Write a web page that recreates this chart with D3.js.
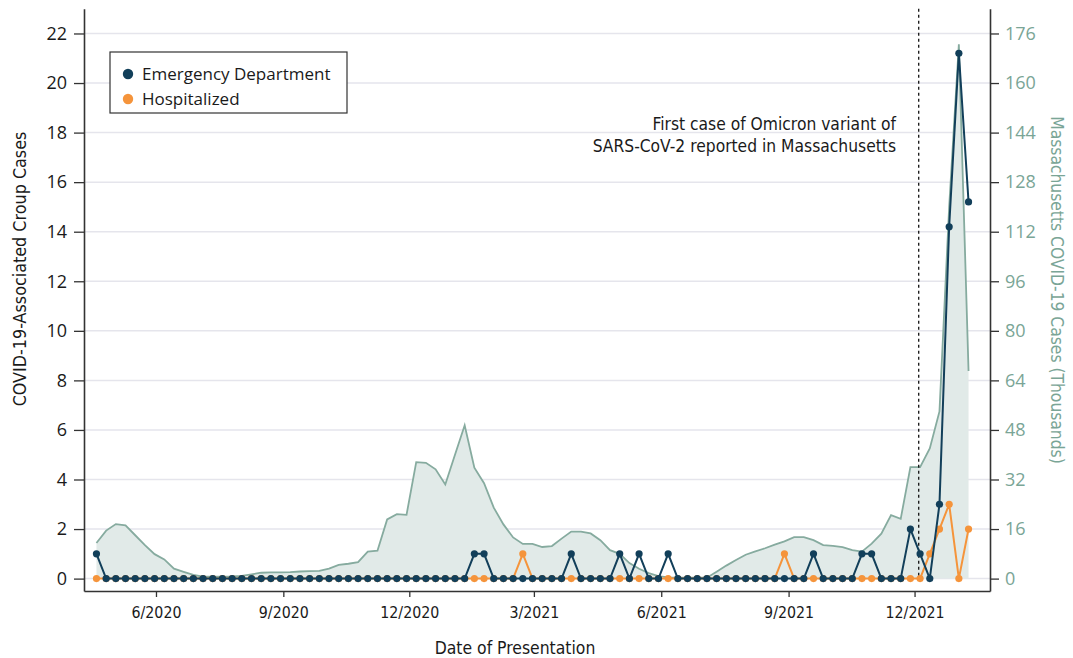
<!DOCTYPE html>
<html><head><meta charset="utf-8">
<script src="https://cdn.jsdelivr.net/npm/d3@7"></script>
<style>body{margin:0;background:#fff}</style>
</head><body>
<svg id="chart" width="1073" height="658"></svg>
<script>
// ---- data ----
const firstWeek = "2020-04-19";
const lastWeek = "2022-01-09";
const edCases = [
  1,0,0,0,0,0,0,0,0,0,
  0,0,0,0,0,0,0,0,0,0,
  0,0,0,0,0,0,0,0,0,0,
  0,0,0,0,0,0,0,0,0,1,
  1,0,0,0,0,0,0,0,0,1,
  0,0,0,0,1,0,1,0,0,1,
  0,0,0,0,0,0,0,0,0,0,
  0,0,0,0,1,0,0,0,0,1,
  1,0,0,0,2,1,0,3,14.2,21.2,
  15.2];
const hospCases = [
  0,0,0,0,0,0,0,0,0,0,
  0,0,0,0,0,0,0,0,0,0,
  0,0,0,0,0,0,0,0,0,0,
  0,0,0,0,0,0,0,0,0,0,
  0,0,0,0,1,0,0,0,0,0,
  0,0,0,0,0,0,0,0,0,0,
  0,0,0,0,0,0,0,0,0,0,
  0,1,0,0,0,0,0,0,0,0,
  0,0,0,0,0,0,1,2,3,0,
  2];
const maCasesK = [
  11.5,15.5,17.6,17.2,14.0,10.8,7.9,6.2,3.2,2.2,
  1.2,0.6,0.6,0.6,0.7,0.9,1.4,1.9,2.0,2.0,
  2.1,2.3,2.4,2.5,3.2,4.4,4.8,5.3,8.7,9.0,
  19.1,20.8,20.6,37.6,37.4,35.3,30.4,40.0,49.5,35.8,
  30.8,22.9,17.5,13.3,11.2,11.2,10.2,10.5,12.9,15.2,
  15.2,14.6,12.4,9.2,8.0,5.0,3.2,1.8,0.8,0.4,
  0.3,0.3,0.3,0.3,2.2,4.2,6.0,7.7,8.8,9.8,
  11.0,12.0,13.4,13.4,12.4,10.8,10.6,10.2,9.2,8.7,
  11.3,14.5,20.5,19.3,36.0,36.0,42.0,54.0,120.0,172.5,
  67.0];
const leftTicks = [0,2,4,6,8,10,12,14,16,18,20,22];
const rightTicks = [0,16,32,48,64,80,96,112,128,144,160,176];
const xTickDates = ["2020-06-01","2020-09-01","2020-12-01","2021-03-01","2021-06-01","2021-09-01","2021-12-01"];
const xTickLabels = ["6/2020","9/2020","12/2020","3/2021","6/2021","9/2021","12/2021"];
const omicronDate = "2021-12-04";
const annotationLines = ["First case of Omicron variant of","SARS-CoV-2 reported in Massachusetts"];
const seriesNames = ["Emergency Department","Hospitalized"];

// ---- setup ----
const parse = d3.utcParse("%Y-%m-%d");
const weeks = d3.utcWeek.range(parse(firstWeek), d3.utcDay.offset(parse(lastWeek), 1));
const C = {ed:"#123f5a", hosp:"#f5943b", areaFill:"#e1eae8", areaLine:"#86ab9f", grid:"#e5e5ec", axis:"#333", teal:"#7aa596", text:"#1a1a1a"};
const F = {num:"'Open Sans', sans-serif", narrow:"'DejaVu Sans Condensed', 'Liberation Sans Narrow', sans-serif"};

const L = 84, R = 990, T = 8.7, B = 591;
const svg = d3.select("#chart");
const x = d3.scaleUtc().domain([new Date(Date.UTC(2020,3,10)), new Date(Date.UTC(2022,0,24,12))]).range([L, R]);
const yL = d3.scaleLinear().domain([-0.5, 23]).range([B, T]);
const yR = d3.scaleLinear().domain([-4, 184]).range([B, T]);

// gridlines
svg.append("g").selectAll("line").data(leftTicks).join("line")
  .attr("x1", L).attr("x2", R).attr("y1", d=>yL(d)).attr("y2", d=>yL(d))
  .attr("stroke", C.grid).attr("stroke-width", 1.5);

// area
const areaData = weeks.map((d,i)=>({date:d, v:maCasesK[i]}));
svg.append("path").datum(areaData)
  .attr("d", d3.area().x(d=>x(d.date)).y0(yR(0)).y1(d=>yR(d.v)))
  .attr("fill", C.areaFill);
svg.append("path").datum(areaData)
  .attr("d", d3.line().x(d=>x(d.date)).y(d=>yR(d.v)))
  .attr("fill", "none").attr("stroke", C.areaLine).attr("stroke-width", 1.8);

// dashed line
svg.append("line")
  .attr("x1", x(parse(omicronDate))).attr("x2", x(parse(omicronDate)))
  .attr("y1", T).attr("y2", yL(0))
  .attr("stroke", "#111").attr("stroke-width", 1.3).attr("stroke-dasharray", "3,3");

// series
function drawSeries(vals, color) {
  const data = weeks.map((d,i)=>({date:d, v:vals[i]}));
  const g = svg.append("g");
  g.append("path").datum(data)
    .attr("d", d3.line().x(d=>x(d.date)).y(d=>yL(d.v)))
    .attr("fill","none").attr("stroke", color).attr("stroke-width", 2);
  g.selectAll("circle").data(data).join("circle")
    .attr("cx", d=>x(d.date)).attr("cy", d=>yL(d.v)).attr("r", 3.6).attr("fill", color);
}
drawSeries(hospCases, C.hosp);
drawSeries(edCases, C.ed);

// axes
const axL = svg.append("g").attr("transform", `translate(${L},0)`)
  .call(d3.axisLeft(yL).tickValues(leftTicks).tickSizeInner(10).tickSizeOuter(0).tickPadding(7));
axL.selectAll("text").attr("font-family", F.num).attr("font-size", 18).attr("fill", C.text);
const axR = svg.append("g").attr("transform", `translate(${R},0)`)
  .call(d3.axisRight(yR).tickValues(rightTicks).tickSizeInner(9).tickSizeOuter(0).tickPadding(6));
axR.selectAll("text").attr("font-family", F.num).attr("font-size", 18).attr("fill", C.teal);
const axB = svg.append("g").attr("transform", `translate(0,${B})`)
  .call(d3.axisBottom(x).tickValues(xTickDates.map(parse)).tickFormat((d,i)=>xTickLabels[i]).tickSizeInner(6).tickSizeOuter(0).tickPadding(10));
axB.selectAll("text").attr("font-family", F.narrow).attr("font-size", 15.8).attr("fill", C.text);
[axL, axR, axB].forEach(a=>{
  a.select(".domain").attr("stroke", C.axis).attr("stroke-width", 1.6);
  a.selectAll(".tick line").attr("stroke", C.axis).attr("stroke-width", 1.3);
});

// axis titles
svg.append("text").attr("transform", `translate(26,269) rotate(-90)`)
  .attr("text-anchor","middle").attr("font-family", F.narrow).attr("font-size", 17.8).attr("fill", C.text)
  .text("COVID-19-Associated Croup Cases");
svg.append("text").attr("transform", `translate(1051,290) rotate(90)`)
  .attr("text-anchor","middle").attr("font-family", F.narrow).attr("font-size", 17.3).attr("fill", C.teal)
  .text("Massachusetts COVID-19 Cases (Thousands)");
svg.append("text").attr("x", 515).attr("y", 654)
  .attr("text-anchor","middle").attr("font-family", F.narrow).attr("font-size", 17.4).attr("fill", C.text)
  .text("Date of Presentation");

// annotation
svg.append("g").selectAll("text").data(annotationLines).join("text")
  .attr("x", 896).attr("y", (d,i)=>130 + i*22)
  .attr("text-anchor","end").attr("font-family", F.narrow).attr("font-size", 17.3).attr("fill", C.text)
  .text(d=>d);

// legend
const lg = svg.append("g");
lg.append("rect").attr("x",110).attr("y",52).attr("width",237).attr("height",61)
  .attr("fill","#fff").attr("stroke","#333").attr("stroke-width",1.2);
const items = lg.selectAll("g").data(seriesNames).join("g")
  .attr("transform", (d,i)=>`translate(128,${74 + i*25})`);
items.append("circle").attr("r",5.2).attr("fill",(d,i)=>i===0?C.ed:C.hosp);
items.append("text").attr("x",14).attr("y",6).attr("font-family",F.num).attr("font-size",17).attr("fill",C.text).text(d=>d);
</script>
</body></html>
